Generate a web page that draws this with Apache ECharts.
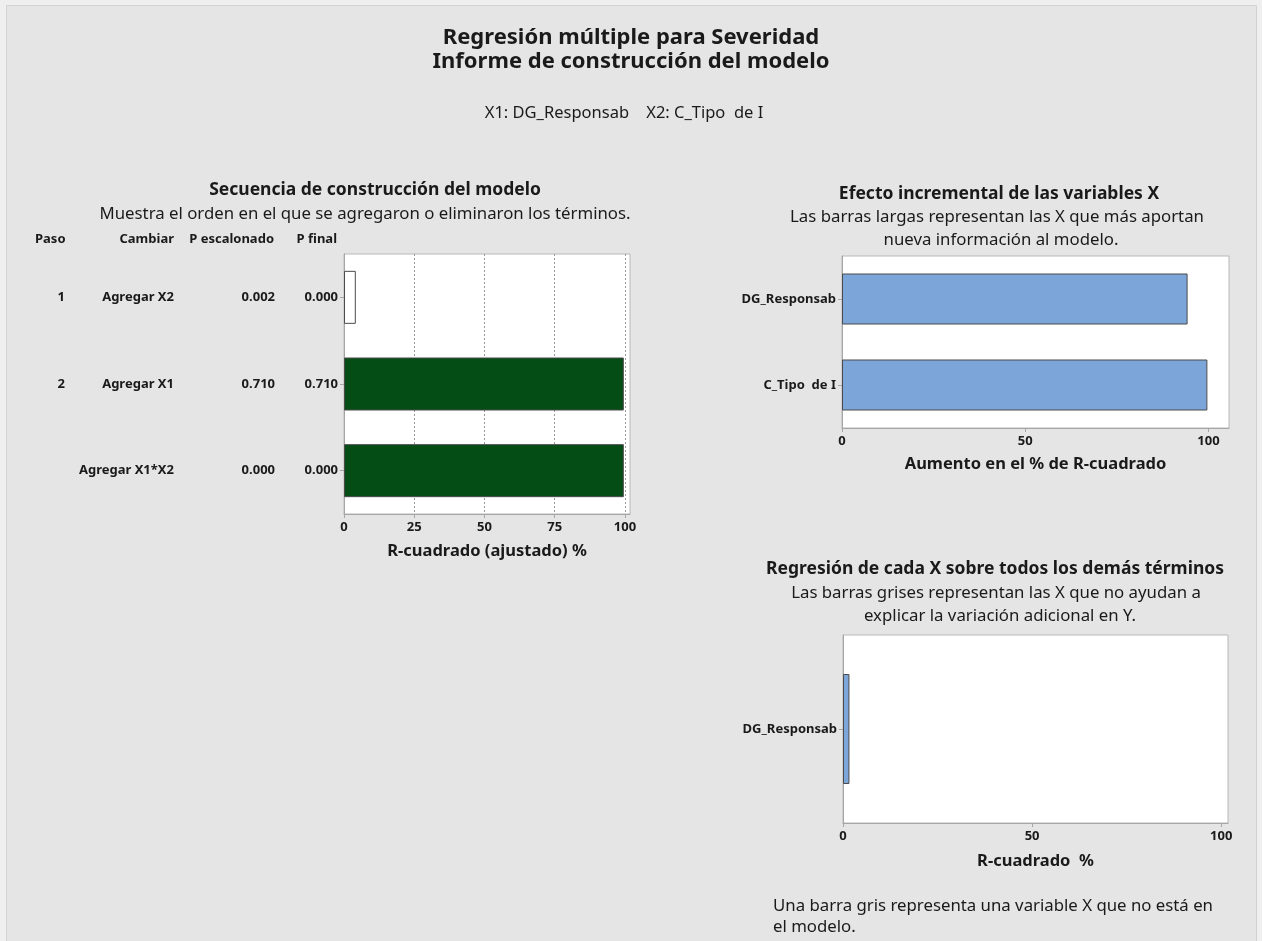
<!DOCTYPE html>
<html>
<head>
<meta charset="utf-8">
<script src="https://cdn.jsdelivr.net/npm/echarts@6/dist/echarts.min.js"></script>
<style>
  html, body { margin: 0; padding: 0; background: #efefef; }
  #c { width: 1262px; height: 941px; }
</style>
</head>
<body>
<div id="c"></div>
<script>
// Model building sequence (one row per step)
const stepNumbers = ['1', '2', ''];
const stepChanges = ['Agregar X2', 'Agregar X1', 'Agregar X1*X2'];
const stepPValues = ['0.002', '0.710', '0.000'];
const finalPValues = ['0.000', '0.710', '0.000'];
const stepRsqAdj = [4.2, 99.6, 99.6];
const stepTicks = [0, 25, 50, 75, 100];

// Incremental effect of each X
const incrementalVars = ['DG_Responsab', 'C_Tipo  de I'];
const incrementalGain = [94.3, 99.7];

// Regression of each X on the remaining terms
const otherVars = ['DG_Responsab'];
const otherRsq = [1.7];
const halfTicks = [0, 50, 100];

const FONT = '"Noto Sans", "Open Sans", sans-serif';
const INK = '#1a1a1a';
const AXIS = '#a6a6a6';
const GREEN = '#044d15';
const BLUE = '#7ca6d9';
const EDGE = '#4a4a4a';
const PANEL = '#e5e5e5';

const chart = echarts.init(document.getElementById('c'), null, { renderer: 'canvas' });

const gridBox = { show: true, backgroundColor: '#ffffff', borderColor: '#b8b8b8', borderWidth: 1, containLabel: false };
const labelStyle = { fontFamily: FONT, fontSize: 13, fontWeight: 'bold', color: INK };
const nameStyle = { fontFamily: FONT, fontSize: 16.5, fontWeight: 'bold', color: INK };

function valueAxis(gridIndex, max, ticks, name, gap, split) {
  return {
    type: 'value', gridIndex, min: 0, max,
    name, nameLocation: 'middle', nameGap: gap, nameTextStyle: nameStyle,
    axisLine: { show: true, lineStyle: { color: AXIS } },
    axisTick: { show: true, length: 4, customValues: ticks, lineStyle: { color: AXIS } },
    axisLabel: Object.assign({ margin: 7, customValues: ticks }, labelStyle),
    splitLine: split
      ? { show: true, lineStyle: { color: '#9a9a9a', type: [2, 2], width: 1 } }
      : { show: false }
  };
}

// Table columns to the left of the step chart, one category axis per column
function columnAxis(gridIndex, data, offset) {
  return {
    type: 'category', gridIndex, data, inverse: true, position: 'left', offset,
    axisLine: { show: false }, axisTick: { show: false }, splitLine: { show: false },
    axisLabel: Object.assign({ margin: 0 }, labelStyle)
  };
}

function catAxis(gridIndex, data) {
  return {
    type: 'category', gridIndex, data, inverse: true, position: 'left',
    axisLine: { show: true, lineStyle: { color: AXIS } },
    axisTick: { show: true, length: 4, alignWithLabel: true, lineStyle: { color: AXIS } },
    axisLabel: Object.assign({ margin: 6 }, labelStyle),
    splitLine: { show: false }
  };
}

function txt(text, x, y, opts) {
  return {
    type: 'text', silent: true,
    style: Object.assign({
      text, x, y, fill: INK, align: 'center', verticalAlign: 'middle',
      font: 'normal 16.8px ' + FONT
    }, opts || {})
  };
}

const bold = (size) => 'bold ' + size + 'px ' + FONT;
const normal = (size) => 'normal ' + size + 'px ' + FONT;

chart.setOption({
  backgroundColor: '#efefef',
  animation: false,
  grid: [
    Object.assign({ left: 344, top: 254, width: 286, height: 260 }, gridBox),
    Object.assign({ left: 842, top: 256, width: 387, height: 172 }, gridBox),
    Object.assign({ left: 843, top: 635, width: 385, height: 188 }, gridBox)
  ],
  xAxis: [
    valueAxis(0, 101.8, stepTicks, 'R-cuadrado (ajustado) %', 29, true),
    valueAxis(1, 105.6, halfTicks, 'Aumento en el % de R-cuadrado', 28, false),
    valueAxis(2, 101.8, halfTicks, 'R-cuadrado  %', 30, false)
  ],
  yAxis: [
    catAxis(0, finalPValues),
    columnAxis(0, stepPValues, 69),
    columnAxis(0, stepChanges, 170),
    columnAxis(0, stepNumbers, 279),
    catAxis(1, incrementalVars),
    catAxis(2, otherVars)
  ],
  series: [
    {
      type: 'bar', xAxisIndex: 0, yAxisIndex: 0, barWidth: 53,
      data: stepRsqAdj.map((v, i) => ({
        value: v,
        itemStyle: { color: i === 0 ? '#ffffff' : GREEN }
      })),
      itemStyle: { borderColor: EDGE, borderWidth: 1 }
    },
    {
      type: 'bar', xAxisIndex: 1, yAxisIndex: 4, barWidth: 51,
      data: incrementalGain,
      itemStyle: { color: BLUE, borderColor: EDGE, borderWidth: 1 }
    },
    {
      type: 'bar', xAxisIndex: 2, yAxisIndex: 5, barWidth: 110,
      data: otherRsq,
      itemStyle: { color: BLUE, borderColor: EDGE, borderWidth: 1 }
    }
  ],
  graphic: [
    // report panel with its thin frame
    {
      type: 'rect', silent: true, z: -10,
      shape: { x: 6.5, y: 5.5, width: 1250, height: 945 },
      style: { fill: PANEL, stroke: '#d2d2d2', lineWidth: 1 }
    },
    txt('Regresión múltiple para Severidad', 631, 38, { font: bold(22) }),
    txt('Informe de construcción del modelo', 631, 62, { font: bold(22) }),
    txt('X1: DG_Responsab    X2: C_Tipo  de I', 624, 113, { font: normal(16.5) }),

    txt('Secuencia de construcción del modelo', 375, 190, { font: bold(17.5) }),
    txt('Muestra el orden en el que se agregaron o eliminaron los términos.', 365, 214),
    txt('Paso', 35, 239, { font: bold(13), align: 'left' }),
    txt('Cambiar', 174, 239, { font: bold(13), align: 'right' }),
    txt('P escalonado', 274, 239, { font: bold(13), align: 'right' }),
    txt('P final', 337, 239, { font: bold(13), align: 'right' }),

    txt('Efecto incremental de las variables X', 999, 194, { font: bold(17.5) }),
    txt('Las barras largas representan las X que más aportan', 997, 217),
    txt('nueva información al modelo.', 1001, 240),

    txt('Regresión de cada X sobre todos los demás términos', 995, 569, { font: bold(17.5) }),
    txt('Las barras grises representan las X que no ayudan a', 996, 593),
    txt('explicar la variación adicional en Y.', 1000, 616),

    txt('Una barra gris representa una variable X que no está en', 773, 906, { align: 'left' }),
    txt('el modelo.', 773, 927, { align: 'left' })
  ]
});
</script>
</body>
</html>
